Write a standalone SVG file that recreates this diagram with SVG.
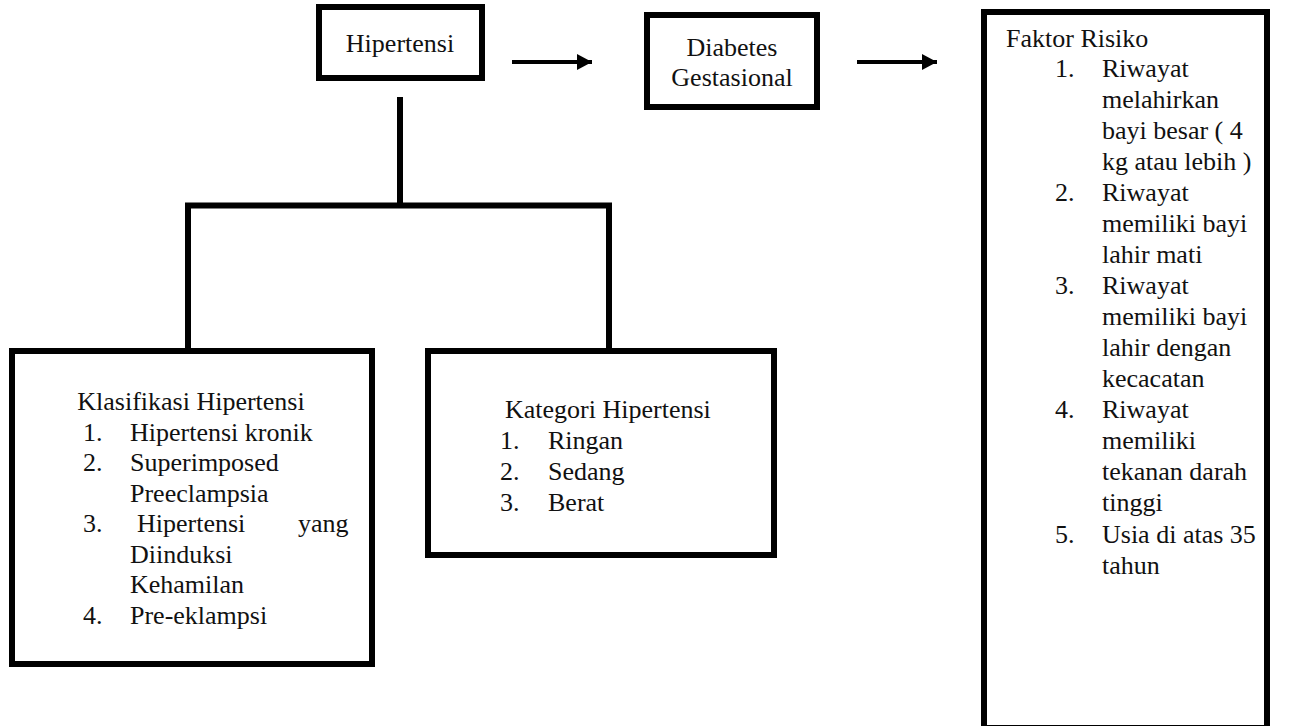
<svg xmlns="http://www.w3.org/2000/svg" width="1300" height="726" viewBox="0 0 1300 726">
<style>
.box{fill:#fff;stroke:#000;stroke-width:6}
.ln{fill:none;stroke:#000;stroke-width:6;stroke-linejoin:miter;stroke-linecap:square}
.ar{fill:none;stroke:#000;stroke-width:4}
text{font-family:"Liberation Serif","Times New Roman",serif;font-size:26px;fill:#111}
.c{text-anchor:middle}
</style>
<defs>
<marker id="ah" markerWidth="15" markerHeight="16" refX="15" refY="8" orient="auto" markerUnits="userSpaceOnUse">
<path d="M0,0 L15,8 L0,16 Z" fill="#000"/>
</marker>
</defs>
<rect width="1300" height="726" fill="#fff"/>
<g id="connectors">
<line class="ar" x1="512" y1="62" x2="592" y2="62" marker-end="url(#ah)"/>
<line class="ar" x1="857" y1="62" x2="937" y2="62" marker-end="url(#ah)"/>
<line class="ln" x1="400" y1="100" x2="400" y2="205"/>
<polyline class="ln" points="188,348 188,205.5 609,205.5 609,348"/>
</g>
<g id="hipertensi">
<rect class="box" x="319" y="7" width="163" height="71"/>
<text class="c" x="400" y="52">Hipertensi</text>
</g>
<g id="diabetes">
<rect class="box" x="647" y="15" width="170" height="92"/>
<text class="c" x="732" y="56">Diabetes</text>
<text class="c" x="732" y="86">Gestasional</text>
</g>
<g id="faktor">
<rect class="box" x="984" y="12" width="283" height="716"/>
<text x="1006" y="47">Faktor Risiko</text>
<text x="1055" y="77">1.</text><text x="1102" y="77">Riwayat</text>
<text x="1102" y="108">melahirkan</text>
<text x="1102" y="139">bayi besar ( 4</text>
<text x="1102" y="170">kg atau lebih )</text>
<text x="1055" y="201">2.</text><text x="1102" y="201">Riwayat</text>
<text x="1102" y="232">memiliki bayi</text>
<text x="1102" y="263">lahir mati</text>
<text x="1055" y="294">3.</text><text x="1102" y="294">Riwayat</text>
<text x="1102" y="325">memiliki bayi</text>
<text x="1102" y="356">lahir dengan</text>
<text x="1102" y="387">kecacatan</text>
<text x="1055" y="418">4.</text><text x="1102" y="418">Riwayat</text>
<text x="1102" y="449">memiliki</text>
<text x="1102" y="480">tekanan darah</text>
<text x="1102" y="511">tinggi</text>
<text x="1055" y="543">5.</text><text x="1102" y="543">Usia di atas 35</text>
<text x="1102" y="574">tahun</text>
</g>
<g id="klasifikasi">
<rect class="box" x="12" y="351" width="360" height="313"/>
<text class="c" x="191" y="410">Klasifikasi Hipertensi</text>
<text x="83" y="441">1.</text><text x="130" y="441">Hipertensi kronik</text>
<text x="83" y="471">2.</text><text x="130" y="471">Superimposed</text>
<text x="130" y="502">Preeclampsia</text>
<text x="83" y="532">3.</text><text x="137" y="532">Hipertensi</text><text x="298" y="532">yang</text>
<text x="130" y="563">Diinduksi</text>
<text x="130" y="593">Kehamilan</text>
<text x="83" y="624">4.</text><text x="130" y="624">Pre-eklampsi</text>
</g>
<g id="kategori">
<rect class="box" x="428" y="351" width="346" height="204"/>
<text x="505" y="418">Kategori Hipertensi</text>
<text x="500" y="449">1.</text><text x="548" y="449">Ringan</text>
<text x="500" y="480">2.</text><text x="548" y="480">Sedang</text>
<text x="500" y="511">3.</text><text x="548" y="511">Berat</text>
</g>
</svg>
